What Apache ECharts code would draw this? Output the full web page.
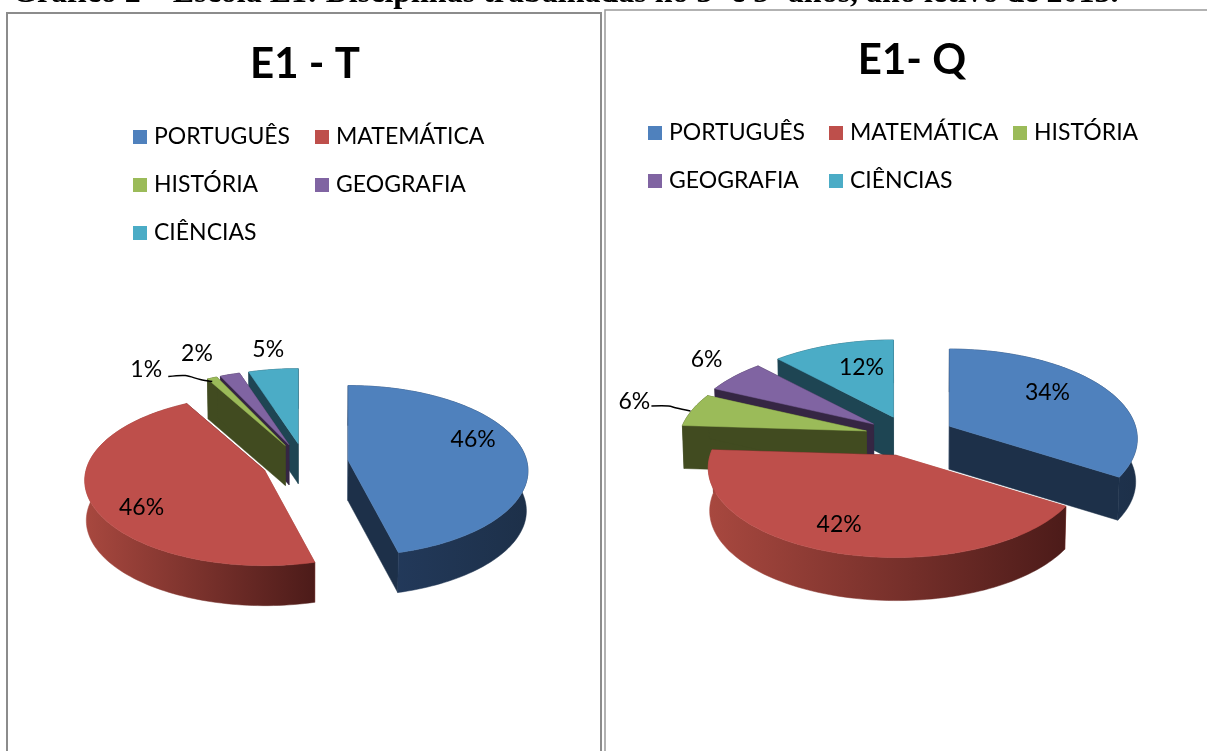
<!DOCTYPE html>
<html><head><meta charset="utf-8">
<style>html,body{margin:0;padding:0;background:#fff;overflow:hidden}#c{width:1207px;height:751px}</style>
<script src="https://cdn.jsdelivr.net/npm/echarts@6/dist/echarts.min.js"></script>
</head><body><div id="c"></div>
<script>
const categories = ['PORTUGUÊS','MATEMÁTICA','HISTÓRIA','GEOGRAFIA','CIÊNCIAS'];
const valuesT = [46,46,1,2,5];
const valuesQ = [34,42,6,6,12];
const tickLabelsT = ['46%','46%','1%','2%','5%'];
const tickLabelsQ = ['34%','42%','6%','6%','12%'];
const heading = 'Gráfico 2 – Escola E1: Disciplinas trabalhadas no 3º e 5º anos, ano letivo de 2013.';

const topColors = ['#4f81bd','#be4f4b','#9bbb59','#8064a2','#4bacc6'];
const wallColors = [['#243c60','#1d3049'],['#a8483f','#4c1b19'],['#414b20','#414b20'],['#352643','#352643'],['#1e4553','#1e4553']];
const FONT = 'Lato, "Open Sans", sans-serif';

const panels = [
  {values:valuesT, labels:tickLabelsT, cx:305, cy:463, R:178.5, Ry:84, p:0.12, D:40, E:43.5,
   paint:[4,3,2,1,0],
   labelOffset:[[125,-21],[-123,37],[-139,-76],[-92,-91],[-30,-94]],
   leader:{2:[[-117,-69],[-100,-70],[-85,-66],[-73,-64]]},
   legendAt:[[133,136],[315,136],[133,184],[315,184],[133,232]]},
  {values:valuesQ, labels:tickLabelsQ, cx:910, cy:436, R:186, Ry:88, p:0.14, D:43, E:45,
   paint:[0,4,3,2,1],
   labelOffset:[[98,-34],[-57,69],[-232,-29],[-167,-65],[-32,-50]],
   leader:{2:[[-215,-25],[-198,-25],[-190,-23],[-176,-20]]},
   legendAt:[[648,132],[829,132],[1013,132],[648,180],[829,180]]}
];

function makeRender(panel, idx){
  const total = panel.values.reduce((a,b)=>a+b,0);
  let before = 0;
  for(let i=0;i<idx;i++) before += panel.values[i];
  return function(params, api){
    const v = api.value(0);
    const a0 = before/total*2*Math.PI, a1 = (before+v)/total*2*Math.PI, mid=(a0+a1)/2;
    const ax = panel.cx + panel.E*Math.sin(mid);
    const ay = panel.cy - panel.E*0.45*Math.cos(mid);
    const pt = (a)=>{
      const s = 1/(1+panel.p*Math.cos(a));
      return [ax+panel.R*Math.sin(a)*s, ay-panel.Ry*Math.cos(a)*s];
    };
    const down = (q)=>[panel.cx+(q[0]-panel.cx)*0.993, q[1]+panel.D];
    const arc=[]; const n=Math.max(2,Math.ceil((a1-a0)/(Math.PI/120)));
    for(let i=0;i<=n;i++) arc.push(pt(a0+(a1-a0)*i/n));
    const apex=[ax,ay];
    const xs=arc.map(q=>q[0]);
    const x0=Math.min(...xs,ax), x1=Math.max(...xs,ax);
    const wc=wallColors[idx];
    const grad=new echarts.graphic.LinearGradient(x0,0,x1,0,[{offset:0,color:wc[0]},{offset:1,color:wc[1]}],true);
    const kids=[];
    const poly=(pts,fill)=>kids.push({type:'polygon',shape:{points:pts},style:{fill:fill,stroke:fill,lineWidth:0.5}});
    poly([apex,arc[0],down(arc[0]),down(apex)],wc[0]);
    poly([apex,arc[n],down(arc[n]),down(apex)],wc[1]);
    poly(arc.concat(arc.slice().reverse().map(down)),grad);
    poly([apex].concat(arc),topColors[idx]);
    const lead=panel.leader[idx];
    if(lead) kids.push({type:'polyline',shape:{points:lead.map(o=>[ax+o[0],ay+o[1]]),smooth:0.3},style:{stroke:'#000',lineWidth:1.5,fill:null}});
    const lo=panel.labelOffset[idx];
    kids.push({type:'text',style:{text:panel.labels[idx],x:ax+lo[0],y:ay+lo[1],fill:'#000',font:'23px '+FONT,align:'center',verticalAlign:'middle'}});
    return {type:'group',children:kids};
  };
}

const series=[], legends=[];
panels.forEach(panel=>{
  categories.forEach((name,i)=>{
    series.push({type:'custom',name:name,coordinateSystem:'none',silent:true,animation:false,
      z:3+panel.paint.indexOf(i),itemStyle:{color:topColors[i]},
      data:[[panel.values[i]]],renderItem:makeRender(panel,i)});
    const at=panel.legendAt[i];
    legends.push({show:true,data:[name],selectedMode:false,orient:'horizontal',left:at[0],top:at[1]-13,
      padding:0,itemWidth:14,itemHeight:14,itemGap:0,icon:'rect',
      textStyle:{fontFamily:FONT,fontSize:23,color:'#000',padding:[0,0,0,2],lineHeight:28,height:28}});
  });
});

const chart=echarts.init(document.getElementById('c'),null,{renderer:'canvas'});
chart.setOption({
  animation:false,backgroundColor:'#fff',
  title:[
    {text:heading,left:12,top:-22,padding:0,textStyle:{fontFamily:'"Liberation Serif",serif',fontWeight:'bold',fontSize:32,color:'#000'}},
    {text:'E1 - T',left:305,textAlign:'center',top:43,padding:0,textStyle:{fontFamily:FONT,fontWeight:'bold',fontSize:42,color:'#000'}},
    {text:'E1- Q',left:912,textAlign:'center',top:39,padding:0,textStyle:{fontFamily:FONT,fontWeight:'bold',fontSize:42,color:'#000'}}
  ],
  legend:legends,
  graphic:[
    {type:'rect',z:1,shape:{x:7,y:13,width:594,height:800},style:{fill:'#fff',stroke:'#8c8c8c',lineWidth:2}},
    {type:'rect',z:1,shape:{x:605,y:10,width:640,height:800},style:{fill:'#fff',stroke:'#999',lineWidth:1.5}}
  ],
  series:series
});
</script></body></html>
